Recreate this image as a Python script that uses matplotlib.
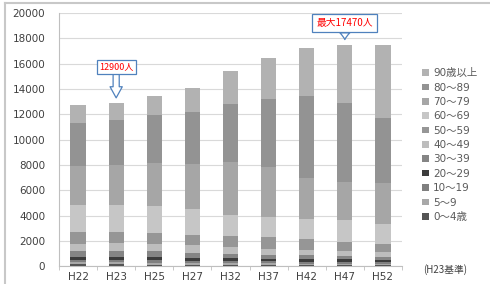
import matplotlib
matplotlib.use('Agg')
import matplotlib.pyplot as plt
from matplotlib.lines import Line2D
import numpy as np

plt.rcParams['font.family'] = ['DejaVu Sans', 'Noto Sans CJK JP']

years = ['H22', 'H23', 'H25', 'H27', 'H32', 'H37', 'H42', 'H47', 'H52']
age_groups = ['0～4歳', '5～9', '10～19', '20～29', '30～39', '40～49',
              '50～59', '60～69', '70～79', '80～89', '90歳以上']

v_0_4   = [150, 150, 140, 130, 120, 110, 100, 95, 90]
v_5_9   = [160, 160, 150, 140, 130, 120, 110, 105, 100]
v_10_19 = [180, 190, 190, 180, 170, 160, 150, 140, 130]
v_20_29 = [260, 270, 260, 240, 230, 220, 210, 200, 190]
v_30_39 = [430, 450, 440, 380, 350, 310, 300, 270, 250]
v_40_49 = [610, 590, 610, 610, 520, 470, 390, 410, 370]
v_50_59 = [920, 900, 840, 820, 870, 950, 900, 730, 660]
v_60_69 = [2100, 2130, 2130, 2020, 1690, 1530, 1570, 1680, 1580]
v_70_79 = [3080, 3160, 3420, 3580, 4150, 3970, 3270, 3020, 3180]
v_80_89 = [3400, 3550, 3770, 4060, 4610, 5370, 6420, 6220, 5140]
v_90    = [1410, 1350, 1520, 1890, 2580, 3240, 3790, 4600, 5760]

series = [v_0_4, v_5_9, v_10_19, v_20_29, v_30_39, v_40_49,
          v_50_59, v_60_69, v_70_79, v_80_89, v_90]
colors = ['#555555', '#a8a8a8', '#7f7f7f', '#3c3c3c', '#858585', '#bdbdbd',
          '#969696', '#c6c6c6', '#a6a6a6', '#939393', '#b2b2b2']

callout1_text = '12900人'
callout2_text = '最大17470人'
note_text = '(H23基準)'

cjk = ['Noto Sans CJK JP', 'DejaVu Sans']

fig = plt.figure(figsize=(4.9, 2.84), dpi=100)
ax = fig.add_axes([59/490, 1 - 266.3/284, (402-59)/490, (266.3-13)/284])

x = np.arange(len(years))
bottom = np.zeros(len(years))
handles = []
for vals, c, lab in zip(series, colors, age_groups):
    b = ax.bar(x, vals, width=0.4, bottom=bottom, color=c, label=lab, zorder=3)
    handles.append(b)
    bottom += np.array(vals)

ax.set_xlim(-0.5, len(years) - 0.5)
ax.set_ylim(0, 20000)
ax.set_yticks(np.arange(0, 20001, 2000))
ax.yaxis.grid(True, color='#d9d9d9', lw=0.8, zorder=0)
ax.set_axisbelow(True)
for s in ['top', 'right']:
    ax.spines[s].set_visible(False)
ax.spines['left'].set_color('#bfbfbf')
ax.spines['bottom'].set_color('#bfbfbf')
ax.tick_params(axis='y', length=0, pad=10, labelsize=7.5, labelcolor='#404040')
ax.set_xticks(x)
ax.set_xticklabels(years)
ax.tick_params(axis='x', length=0, pad=4, labelsize=7.5, labelcolor='#404040')
ax.set_xticks(np.arange(-0.5, len(years)), minor=True)
ax.tick_params(axis='x', which='minor', length=3, color='#bfbfbf')

# callouts
i1 = years.index('H23')
ax.annotate(callout1_text, xy=(i1, 13300), xytext=(i1, 15740),
            ha='center', va='center', fontsize=6.5, color='#ff0000', family=cjk,
            bbox=dict(boxstyle='square,pad=0.25', fc='white', ec='#4f81bd', lw=0.9),
            arrowprops=dict(arrowstyle='simple,head_length=1.0,head_width=1.1,tail_width=0.55',
                            fc='white', ec='#4f81bd', lw=0.9, mutation_scale=8,
                            shrinkA=0, shrinkB=0),
            zorder=5)
i2 = years.index('H47')
ax.annotate(callout2_text, xy=(i2, 17900), xytext=(i2, 19210),
            ha='center', va='center', fontsize=7, color='#ff0000', family=cjk,
            bbox=dict(boxstyle='square,pad=0.45', fc='white', ec='#4f81bd', lw=0.9),
            arrowprops=dict(arrowstyle='wedge,tail_width=0.9,shrink_factor=0.4',
                            fc='white', ec='#4f81bd', lw=0.9, mutation_scale=8,
                            shrinkA=0, shrinkB=0),
            annotation_clip=False, zorder=5)

leg = fig.legend(handles=handles[::-1], loc='upper left',
                 bbox_to_anchor=(418/490, 1 - 64/284), frameon=False,
                 fontsize=7.5, handlelength=0.7, handleheight=0.6,
                 handletextpad=0.35, labelspacing=0.42, borderaxespad=0)
for t in leg.get_texts():
    t.set_color('#595959')

fig.text(423/490, 1 - 270/284, note_text, fontsize=7, color='#404040',
         ha='left', va='center', family=cjk)

# outer frame
fig.add_artist(Line2D([5/490, 1], [1 - 3/284, 1 - 3/284], transform=fig.transFigure,
                      color='#c8c8c8', lw=1.5))
fig.add_artist(Line2D([5/490, 5/490], [0, 1 - 3/284], transform=fig.transFigure,
                      color='#c8c8c8', lw=1.5))

fig.savefig('out.png', dpi=100)
